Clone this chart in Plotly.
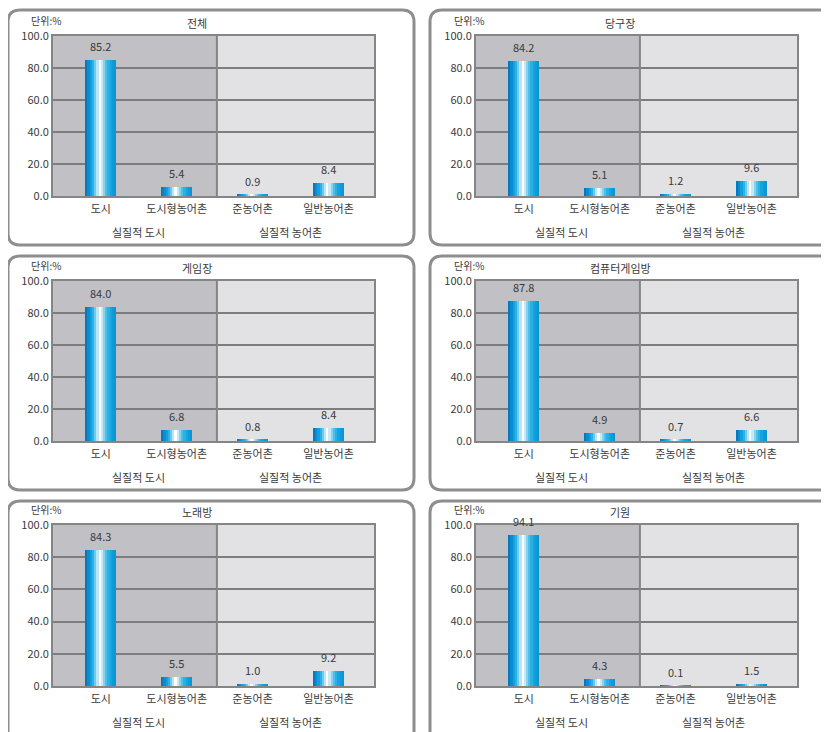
import plotly.graph_objects as go

# data
categories = ["도시", "도시형농어촌", "준농어촌", "일반농어촌"]
groups = ["실질적 도시", "실질적 농어촌"]
titles = ["전체", "당구장", "게임장", "컴퓨터게임방", "노래방", "기원"]
v_total = [85.2, 5.4, 0.9, 8.4]
v_billiard = [84.2, 5.1, 1.2, 9.6]
v_game = [84.0, 6.8, 0.8, 8.4]
v_pcbang = [87.8, 4.9, 0.7, 6.6]
v_karaoke = [84.3, 5.5, 1.0, 9.2]
v_baduk = [94.1, 4.3, 0.1, 1.5]
panel_values = [v_total, v_billiard, v_game, v_pcbang, v_karaoke, v_baduk]

W, H = 829, 732
OFF = 8  # page body margin
FONT = "Noto Sans CJK KR"
TXT = "#3a3a3a"

def px(p):
    return (p - OFF) / W

def py(p):
    return 1 - (p - OFF) / H

# pixel layout of the panels (screen coordinates)
col_plot = [(53, 374), (476, 797)]
col_box = [(8, 414), (430, 900)]
row_plot = [(36, 196), (281, 441), (525, 686)]
row_box = [(10, 245), (256, 490), (501, 800)]

# gradient for the cylinder-like bars
grad = ["#0678c0", "#0b8ccf", "#14a0dc", "#2cb2e6", "#6ccaee", "#b9e6f7",
        "#ffffff", "#c4eaf8", "#86d3f0", "#4fbfe9", "#2bb0e3", "#17a4de",
        "#0d9bd9", "#0896d6"]
N = len(grad)
BW = 0.41
XR = [-0.63, 3.6]
SPLIT = 1.53

fig = go.Figure()
shapes = []
annotations = []

for k, vals in enumerate(panel_values):
    r, c = divmod(k, 2)
    ax = "" if k == 0 else str(k + 1)
    xa, ya = "x" + ax, "y" + ax
    x0, x1 = col_plot[c]
    y0, y1 = row_plot[r]

    # rounded panel frame
    bx0, bx1 = col_box[c]
    by0, by1 = row_box[r]
    rr = 12
    path = (f"M {px(bx0+rr)},{py(by0)} L {px(bx1-rr)},{py(by0)} "
            f"Q {px(bx1)},{py(by0)} {px(bx1)},{py(by0+rr)} "
            f"L {px(bx1)},{py(by1-rr)} Q {px(bx1)},{py(by1)} {px(bx1-rr)},{py(by1)} "
            f"L {px(bx0+rr)},{py(by1)} Q {px(bx0)},{py(by1)} {px(bx0)},{py(by1-rr)} "
            f"L {px(bx0)},{py(by0+rr)} Q {px(bx0)},{py(by0)} {px(bx0+rr)},{py(by0)} Z")
    shapes.append(dict(type="path", path=path, xref="paper", yref="paper",
                       line=dict(color="#8e8e8e", width=3), layer="below"))

    # background zones
    shapes.append(dict(type="rect", xref=xa, yref=ya + " domain", x0=XR[0], x1=SPLIT,
                       y0=0, y1=1, fillcolor="#c1c0c5", line_width=0, layer="below"))
    shapes.append(dict(type="rect", xref=xa, yref=ya + " domain", x0=SPLIT, x1=XR[1],
                       y0=0, y1=1, fillcolor="#e2e2e4", line_width=0, layer="below"))
    shapes.append(dict(type="line", xref=xa, yref=ya + " domain", x0=SPLIT, x1=SPLIT,
                       y0=0, y1=1, line=dict(color="#858585", width=2)))

    # gradient bars as thin slices
    for i, col in enumerate(grad):
        fig.add_trace(go.Bar(
            x=[0, 1, 2, 3], y=vals, width=BW / N, offset=-BW / 2 + i * BW / N,
            marker=dict(color=col, line=dict(width=0)), showlegend=False,
            hoverinfo="skip", xaxis=xa, yaxis=ya))

    # value labels
    for xi, v in enumerate(vals):
        annotations.append(dict(x=xi, y=v, xref=xa, yref=ya, text=f"{v:.1f}",
                                showarrow=False, yanchor="bottom", yshift=4,
                                font=dict(size=11, color=TXT, family=FONT)))

    fig.update_layout(**{
        "xaxis" + ax: dict(domain=[px(x0), px(x1)], range=XR, tickvals=[0, 1, 2, 3],
                           ticktext=categories, showgrid=False, zeroline=False,
                           showline=True, mirror=True, linecolor="#858585", linewidth=2,
                           ticks="", tickfont=dict(size=11, color=TXT, family=FONT),
                           ticklabelstandoff=2,
                           anchor=ya, fixedrange=True, automargin=False),
        "yaxis" + ax: dict(domain=[py(y1), py(y0)], range=[0, 100],
                           tickvals=[0, 20, 40, 60, 80, 100], tickformat=".1f",
                           showgrid=True, gridcolor="#7d7d7d", gridwidth=2,
                           zeroline=False, showline=True, mirror=True,
                           linecolor="#858585", linewidth=2, ticks="",
                           tickfont=dict(size=11, color=TXT, family=FONT),
                           anchor=xa, fixedrange=True, automargin=False),
    })

    annotations.append(dict(x=px(x0 - 24), y=py(y0 - 16), xref="paper", yref="paper",
                            text="단위:%", showarrow=False, xanchor="left",
                            yanchor="middle",
                            font=dict(size=10, color=TXT, family=FONT)))
    annotations.append(dict(x=1.27, y=py(y0 - 13), xref=xa, yref="paper",
                            text=titles[k], showarrow=False, xanchor="center",
                            yanchor="middle",
                            font=dict(size=11, color=TXT, family=FONT)))
    for gx, g in zip([0.5, 2.5], groups):
        annotations.append(dict(x=gx, y=py(y1 + 36), xref=xa, yref="paper",
                                text=g, showarrow=False, xanchor="center",
                                yanchor="middle",
                                font=dict(size=11, color=TXT, family=FONT)))

fig.update_layout(
    width=W, height=H, margin=dict(l=0, r=0, t=0, b=0, autoexpand=False),
    paper_bgcolor="white", plot_bgcolor="rgba(0,0,0,0)",
    barmode="overlay", bargap=0, shapes=shapes, annotations=annotations,
    font=dict(family=FONT, color=TXT),
)

fig.write_html("out.html",
               post_script="document.documentElement.style.overflow='hidden';"
                           "document.body.style.overflow='hidden';")
